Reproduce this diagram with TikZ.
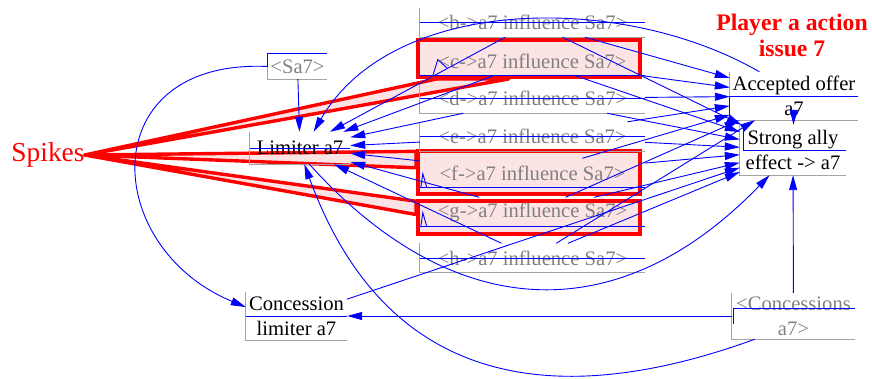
\documentclass[tikz,border=0pt]{standalone}
\usepackage{fontspec}
\setmainfont{Liberation Serif}
\usetikzlibrary{arrows.meta,calc}
\definecolor{linkblue}{RGB}{0,0,255}
\definecolor{ghostgrey}{RGB}{128,128,128}
\definecolor{framegrey}{RGB}{165,165,165}
\definecolor{spikered}{RGB}{255,0,0}
\definecolor{spikepink}{RGB}{253,228,228}

\begin{document}
\begin{tikzpicture}[
  x=1pt,y=1pt,
  every node/.style={align=center,inner sep=0pt},
  varname/.style={font=\fontsize{20.6}{25}\selectfont,text=black},
  ghost/.style={font=\fontsize{20.6}{25}\selectfont,text=ghostgrey},
  influence/.style={ghost,minimum width=225,minimum height=29},
  hilite/.style={draw=spikered,line width=4pt,fill=spikepink},
  boxframe/.style={draw=framegrey,line width=1pt},
  wire/.style={draw=linkblue,line width=0.9pt},
  link/.style={-{Triangle[length=15pt,width=8pt]},draw=linkblue,line width=0.9pt},
  spike/.style={draw=spikered,fill=spikepink,line width=3.4pt,line join=round}
]
\useasboundingbox (0,0) rectangle (872,379);

% --- Highlight frames round the spiking inputs ---
\node[hilite,minimum width=222,minimum height=37] (chl) at (529,320.5) {};
\node[hilite,minimum width=222,minimum height=43] (fhl) at (529,206.5) {};
\node[hilite,minimum width=222,minimum height=33] (ghl) at (529,161.5) {};

% --- Comments ---
\node[font=\fontsize{27.4}{30}\selectfont,text=spikered] (spk) at (48,224) {Spikes};
\node[font=\fontsize{23.7}{26}\selectfont\bfseries,text=spikered] (ttl) at (792,344)
  {Player a action\\issue 7};

% --- Spikes pointing at the inputs ---
\draw[spike] (spk.east) -- ($(chl.south west)!0.09!(chl.south east)$)
  -- ($(chl.south west)!0.41!(chl.south east)$) -- cycle;
\draw[spike] (spk.east) -- ($(fhl.north west)!0.05!(fhl.south west)$)
  -- ($(fhl.north west)!0.40!(fhl.south west)$) -- cycle;
\draw[spike] (spk.east) -- ($(ghl.north west)!0.06!(ghl.south west)$)
  -- ($(ghl.north west)!0.42!(ghl.south west)$) -- cycle;

% --- Variables ---
\node[ghost,minimum width=59,minimum height=25] (sa) at (297.5,312.5) {<Sa7>};
\node[varname,minimum width=100,minimum height=32] (lim) at (300,231) {Limiter a7};
\node[varname,minimum width=101,minimum height=48] (conlim) at (296.5,63)
  {Concession\\limiter a7};
\node[varname,minimum width=128,minimum height=48] (acc) at (794,283)
  {Accepted offer\\a7};
\node[varname,minimum width=106,minimum height=50] (sta) at (793,229)
  {Strong ally\\effect -> a7};
\node[ghost,minimum width=123,minimum height=46] (cons) at (793.5,63)
  {<Concessions\\a7>};

% --- Influence inputs ---
\node[influence] (b) at (532.5,356.5) {<b->a7 influence Sa7>};
\node[influence] (c) at (532.5,318) {<c->a7 influence Sa7>};
\node[influence] (d) at (532.5,280.5) {<d->a7 influence Sa7>};
\node[influence] (e) at (532.5,242.5) {<e->a7 influence Sa7>};
\node[influence] (f) at (532.5,206) {<f->a7 influence Sa7>};
\node[influence] (g) at (532.5,167) {<g->a7 influence Sa7>};
\node[influence] (h) at (532.5,121) {<h->a7 influence Sa7>};

% --- Box edges ---
\foreach \n in {sa,lim,b,d,e,h,acc,sta,conlim,cons}
  \draw[boxframe] (\n.north west) |- (\n.south east);

% --- Stray wires through the labels ---
\foreach \n in {lim,b,d,e,h,conlim}
  \draw[wire] (\n.west) -- (\n.east);
\foreach \n in {c,f,g}
  \draw[wire] (\n.south west) -- (\n.south east);
\draw[wire] (sa.north east) -- (sa.north west) -- (sa.west);
\draw[wire] ($(c.south west)+(13,0)$) -- ++(5,16) -- ++(10,-9);
\draw[wire] ($(f.south west)+(1,0)$) -- ++(2,14) -- ++(4,-14);
\draw[wire] ($(g.south west)+(1,0)$) -- ++(2,14) -- ++(4,-14);
\draw[wire] (acc.east) -- (acc.west) -- ++(0,-19);
\draw[wire] (sta.east) -- ($(sta.west)+(4,0)$) -- ++(0,24);
\draw[wire] ($(cons.east)+(0,8)$) -- ($(cons.west)+(2,8)$) -- ($(cons.west)+(2,-8)$);

% --- Links from the influence inputs ---
\foreach \src in {b,c,d,e,f,g,h} {
  \draw[link] (\src) -- (lim);
  \draw[link] (\src) -- (acc);
  \draw[link] (\src) -- (sta);
}

% --- Other links ---
\draw[link] (sa) -- (lim);
\draw[link] (sa.west) .. controls +(-175,8) and +(-145,60) .. (conlim.170);
\draw[link] (acc.145) to[out=150,in=60,looseness=0.9] (lim.50);
\draw[link] (acc) -- (sta);
\draw[link] (cons) -- (sta);
\draw[link] (cons) -- (conlim);
\draw[link] (conlim) -- (sta);
\draw[link] (lim.300) to[out=312,in=226,looseness=1.2] (sta.227);
\draw[link] (cons.211) to[out=200,in=290,looseness=1.2] (lim.285);
\end{tikzpicture}
\end{document}
